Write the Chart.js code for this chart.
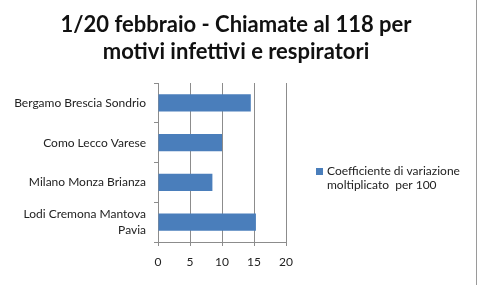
<!DOCTYPE html>
<html>
<head>
<meta charset="utf-8">
<script src="https://cdn.jsdelivr.net/npm/chart.js@4/dist/chart.umd.min.js"></script>
<style>
  html, body { margin: 0; padding: 0; background: #fff; }
  #wrap { width: 479px; height: 285px; position: relative; }
</style>
</head>
<body>
<div id="wrap"><canvas id="c" width="479" height="285"></canvas></div>
<script>
const titleLines = ['1/20 febbraio - Chiamate al 118 per', 'motivi infettivi e respiratori'];
const categories = [
  'Bergamo Brescia Sondrio',
  'Como Lecco Varese',
  'Milano Monza Brianza',
  ['Lodi Cremona Mantova', 'Pavia']
];
const values = [14.5, 10, 8.5, 15.3];
const seriesLabel = ['Coefficiente di variazione', 'moltiplicato  per 100'];
const xTicks = [0, 5, 10, 15, 20];

const FONT = 'Lato, "Open Sans", sans-serif';
const BAR = '#4a7ebb';

const decorPlugin = {
  id: 'decor',
  afterDraw(chart) {
    const ctx = chart.ctx;
    const ds = chart.data.datasets[0];
    ctx.save();
    // title
    ctx.fillStyle = '#111';
    ctx.font = 'bold 22px ' + FONT;
    ctx.textAlign = 'center';
    ctx.textBaseline = 'middle';
    titleLines.forEach((t, i) => ctx.fillText(t, 236, 25 + i * 27));
    // legend
    ctx.fillStyle = ds.backgroundColor;
    ctx.fillRect(316, 168, 7, 7);
    ctx.fillStyle = '#222';
    ctx.font = '12px ' + FONT;
    ctx.textAlign = 'left';
    ds.label.forEach((t, i) => ctx.fillText(t, 327, 171.5 + i * 13.5));
    // outer frame line on the right
    ctx.strokeStyle = '#9a9a9a';
    ctx.lineWidth = 1;
    ctx.beginPath();
    ctx.moveTo(476.5, 0);
    ctx.lineTo(476.5, 285);
    ctx.stroke();
    ctx.restore();
  }
};

new Chart(document.getElementById('c'), {
  type: 'bar',
  data: {
    labels: categories,
    datasets: [{
      label: seriesLabel,
      data: values,
      backgroundColor: BAR,
      borderWidth: 0,
      barPercentage: 0.43,
      categoryPercentage: 1.0
    }]
  },
  options: {
    indexAxis: 'y',
    responsive: false,
    animation: false,
    layout: { padding: { left: 0, right: 193, top: 83, bottom: 0 } },
    plugins: {
      legend: { display: false },
      tooltip: { enabled: false },
      title: { display: false }
    },
    scales: {
      x: {
        min: 0, max: 20,
        afterBuildTicks(s) { s.ticks = xTicks.map(v => ({ value: v })); },
        afterFit(s) { s.height = 43; },
        grid: { color: '#8c8c8c', lineWidth: 1, drawTicks: true, tickLength: 4, tickColor: '#8c8c8c' },
        border: { color: '#8c8c8c' },
        ticks: { color: '#222', font: { family: FONT, size: 12 }, padding: 9 }
      },
      y: {
        afterFit(s) { s.width = 158; },
        grid: { offset: true, drawOnChartArea: false, drawTicks: true, tickLength: 4, tickColor: '#8c8c8c' },
        border: { color: '#8c8c8c' },
        ticks: { color: '#222', font: { family: FONT, size: 12, lineHeight: 1.35 }, padding: 8 }
      }
    }
  },
  plugins: [decorPlugin]
});
</script>
</body>
</html>
